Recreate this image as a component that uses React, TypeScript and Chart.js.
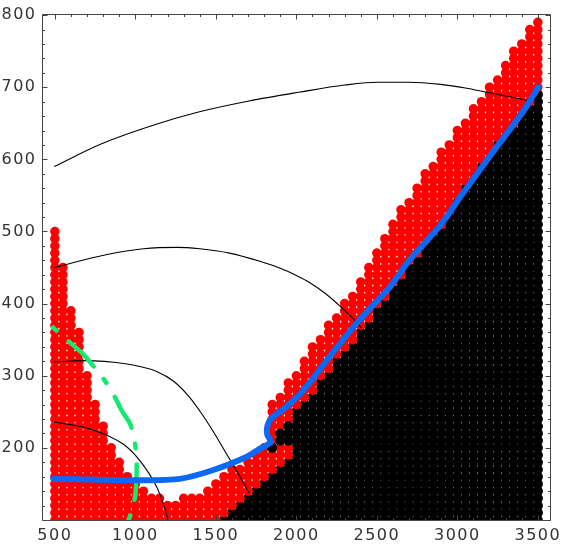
import React, { useEffect, useRef } from 'react';
import { Chart, registerables } from 'chart.js';

Chart.register(...registerables);

// grid columns (x) of the dot map
const colX = [
  500, 550, 600, 650, 700, 750, 800, 850, 900, 950,
  1000, 1050, 1100, 1150, 1200, 1250, 1300, 1350, 1400, 1450,
  1500, 1550, 1600, 1650, 1700, 1750, 1800, 1850, 1900, 1950,
  2000, 2050, 2100, 2150, 2200, 2250, 2300, 2350, 2400, 2450,
  2500, 2550, 2600, 2650, 2700, 2750, 2800, 2850, 2900, 2950,
  3000, 3050, 3100, 3150, 3200, 3250, 3300, 3350, 3400, 3450, 3500,
];

// top of the black region in each column (black from 100 up to it)
const blackTop: (number | null)[] = [
  null, null, null, null, null, null, null, null, null, null,
  null, null, null, null, null, null, null, null, null, null,
  null, 100, 110, 120, 130, 140, 150, 160, 170, 180,
  250, 260, 270, 290, 300, 320, 330, 340, 360, 370,
  390, 400, 420, 430, 450, 460, 480, 490, 500, 520,
  540, 560, 570, 590, 600, 620, 630, 640, 660, 670, 690,
];

// top of the red region in each column (red above black, or from 100)
const redTop = [
  500, 450, 390, 360, 300, 260, 230, 200, 180, 160,
  150, 140, 130, 130, 120, 120, 130, 130, 130, 140,
  150, 160, 170, 170, 180, 190, 200, 260, 270, 290,
  300, 320, 340, 350, 370, 380, 400, 410, 430, 450,
  470, 490, 510, 530, 540, 560, 580, 590, 610, 620,
  640, 650, 670, 680, 700, 710, 730, 750, 760, 780, 790,
];

// isolated black points near the knee of the blue curve
const kneeBlackX = [1850, 1900, 1900, 1950, 1950, 1950];
const kneeBlackY = [200, 210, 220, 210, 220, 230];

// thin black curves
const curveA: [number, number][] = [
  [496, 590], [783, 621], [1091, 646], [1398, 666], [1706, 681], [2014, 693],
  [2300, 703], [2506, 707], [2701, 707], [2896, 704], [3050, 699], [3183, 693], [3450, 681],
];
const curveB: [number, number][] = [
  [496, 450], [824, 468], [1050, 476], [1258, 478], [1400, 476], [1584, 470],
  [1768, 459], [1900, 449], [2000, 439], [2077, 430], [2180, 414], [2283, 394], [2383, 372], [2405, 366],
];
const curveC: [number, number][] = [
  [496, 319], [680, 321], [926, 317], [1132, 306], [1240, 292], [1337, 270],
  [1410, 248], [1480, 224], [1560, 194], [1627, 169], [1708, 137],
];
const curveD: [number, number][] = [
  [496, 236], [721, 226], [926, 205], [1029, 182], [1132, 146], [1175, 122], [1203, 100],
];

// green dash-dot curve
const greenCurve: [number, number][] = [
  [488, 367], [590, 347], [680, 329], [740, 313], [814, 292], [876, 269], [917, 251],
  [968, 233], [998, 205], [1008, 178], [1005, 150], [998, 132], [980, 115], [955, 98],
];

// thick blue curve
const blueCurve: [number, number][] = [
  [490, 157], [721, 156], [1029, 155], [1275, 157], [1480, 169], [1686, 187], [1760, 197],
  [1809, 203], [1843, 208], [1835, 212], [1820, 218], [1817, 226], [1828, 235], [1850, 242],
  [1911, 252], [1973, 264], [2040, 279], [2110, 298], [2180, 319], [2383, 375], [2588, 425],
  [2691, 457], [2896, 509], [3019, 548], [3204, 605], [3411, 667], [3503, 700],
];

const xTickValues = [500, 1000, 1500, 2000, 2500, 3000, 3500];
const yTickValues = [200, 300, 400, 500, 600, 700, 800];

const ROW_STEP = 10;

function buildDots() {
  const black: { x: number; y: number }[] = [];
  const red: { x: number; y: number }[] = [];
  colX.forEach((x, i) => {
    const bt = blackTop[i];
    if (bt != null) {
      for (let y = 100; y <= bt; y += ROW_STEP) black.push({ x, y });
    }
    const start = bt != null ? bt + ROW_STEP : 100;
    for (let y = start; y <= redTop[i]; y += ROW_STEP) red.push({ x, y });
  });
  const knee = kneeBlackX.map((x, i) => ({ x, y: kneeBlackY[i] }));
  return { black, red, knee };
}

const toPts = (arr: [number, number][]) => arr.map(([x, y]) => ({ x, y }));

const framePlugin = {
  id: 'frame',
  beforeDraw(chart: any) {
    chart.ctx.letterSpacing = '1.5px';
  },
  afterDraw(chart: any) {
    const { ctx, chartArea: a, scales } = chart;
    ctx.letterSpacing = '0px';
    const xs = scales.x;
    const ys = scales.y;
    const L = Math.floor(a.left) + 0.5;
    const R = Math.floor(a.right) + 0.5;
    const T = Math.floor(a.top) - 0.5;
    const B = Math.floor(a.bottom) + 0.5;
    ctx.save();
    ctx.strokeStyle = '#444';
    ctx.lineWidth = 1;
    ctx.beginPath();
    ctx.moveTo(L, T); ctx.lineTo(R, T); ctx.lineTo(R, B); ctx.lineTo(L, B); ctx.closePath();
    for (let v = 500; v <= 3500; v += 100) {
      const p = Math.round(xs.getPixelForValue(v)) + 0.5;
      const len = v % 500 === 0 ? 5 : 2.5;
      ctx.moveTo(p, B); ctx.lineTo(p, B - len);
      ctx.moveTo(p, T); ctx.lineTo(p, T + len);
    }
    for (let v = 100; v <= 800; v += 20) {
      const p = Math.round(ys.getPixelForValue(v)) + 0.5;
      const len = v % 100 === 0 ? 5 : 2.5;
      ctx.moveTo(L, p); ctx.lineTo(L + len, p);
      ctx.moveTo(R, p); ctx.lineTo(R - len, p);
    }
    ctx.stroke();
    ctx.restore();
  },
};

export default function App() {
  const ref = useRef<HTMLCanvasElement>(null);
  useEffect(() => {
    const { black, red, knee } = buildDots();
    const thin = (data: [number, number][]) => ({
      data: toPts(data),
      showLine: true,
      borderColor: '#000',
      borderWidth: 1.1,
      pointRadius: 0,
      cubicInterpolationMode: 'monotone',
      order: 2,
      clip: 0,
    });
    const chart = new Chart(ref.current as HTMLCanvasElement, {
      type: 'scatter',
      data: {
        datasets: [
          {
            data: toPts(blueCurve),
            showLine: true,
            borderColor: 'rgb(10,105,245)',
            borderWidth: 6,
            pointRadius: 0,
            tension: 0.25,
            borderCapStyle: 'round',
            borderJoinStyle: 'round',
            order: 0,
            clip: 0,
          } as any,
          {
            data: toPts(greenCurve),
            showLine: true,
            borderColor: 'rgb(20,232,110)',
            borderWidth: 4.5,
            borderDash: [5, 16, 35.5, 16],
            borderCapStyle: 'round',
            pointRadius: 0,
            tension: 0.3,
            order: 1,
            clip: 0,
          } as any,
          thin(curveA) as any,
          thin(curveB) as any,
          thin(curveC) as any,
          thin(curveD) as any,
          {
            data: knee,
            pointRadius: 5,
            pointBackgroundColor: '#000',
            pointBorderWidth: 0,
            order: 3,
            clip: 0,
          } as any,
          {
            data: red,
            pointRadius: 4.75,
            pointBackgroundColor: '#ff0000',
            pointBorderWidth: 0,
            order: 4,
            clip: 0,
          } as any,
          {
            data: black,
            pointRadius: 5.1,
            pointBackgroundColor: '#000',
            pointBorderWidth: 0,
            order: 5,
            clip: 0,
          } as any,
        ],
      },
      options: {
        responsive: false,
        animation: false,
        events: [],
        layout: { padding: { top: 10, right: 12, left: 0, bottom: 0 } },
        plugins: { legend: { display: false }, tooltip: { enabled: false } },
        scales: {
          x: {
            type: 'linear',
            min: 420,
            max: 3580,
            grid: { display: false, drawTicks: false },
            border: { display: false },
            afterBuildTicks: (s: any) => {
              s.ticks = xTickValues.map((value) => ({ value }));
            },
            afterFit: (s: any) => {
              s.height = 25;
            },
            ticks: {
              color: '#333',
              padding: 6.5,
              maxRotation: 0,
              autoSkip: false,
              callback: (v: any) => String(v),
              font: { family: 'DejaVu Sans', size: 16 },
            },
          },
          y: {
            type: 'linear',
            min: 100,
            max: 800,
            grid: { display: false, drawTicks: false },
            border: { display: false },
            afterBuildTicks: (s: any) => {
              s.ticks = yTickValues.map((value) => ({ value }));
            },
            afterFit: (s: any) => {
              s.width = 42;
            },
            ticks: {
              color: '#333',
              padding: 5.5,
              autoSkip: false,
              callback: (v: any) => String(v),
              font: { family: 'DejaVu Sans', size: 16 },
            },
          },
        },
      } as any,
      plugins: [framePlugin],
    });
    return () => chart.destroy();
  }, []);
  return (
    <div style={{ position: 'fixed', left: 0, top: 0, width: 565, height: 545, background: '#fff' }}>
      <canvas ref={ref} width={565} height={545} style={{ display: 'block' }} />
    </div>
  );
}
